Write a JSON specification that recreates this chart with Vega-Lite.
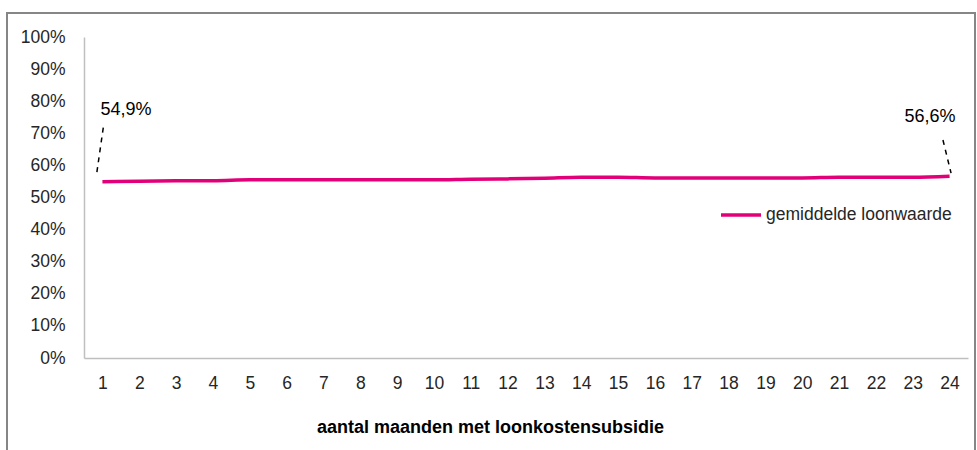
{
  "$schema": "https://vega.github.io/schema/vega-lite/v6.json",
  "autosize": "none",
  "width": 884,
  "height": 321,
  "padding": {"left": 84, "top": 37, "right": 9, "bottom": 92},
  "background": "white",
  "config": {
    "view": {"stroke": null},
    "font": "Liberation Sans",
    "axis": {"grid": false, "ticks": false, "domainColor": "#bfbfbf", "domainWidth": 1.5, "labelFontSize": 17.5, "labelColor": "#262626", "labelFont": "Liberation Sans", "labelOverlap": false}
  },
  "datasets": {
    "reeks": [
      {"maand": 1, "waarde": 0.549, "serie": "gemiddelde loonwaarde"},
      {"maand": 2, "waarde": 0.551, "serie": "gemiddelde loonwaarde"},
      {"maand": 3, "waarde": 0.552, "serie": "gemiddelde loonwaarde"},
      {"maand": 4, "waarde": 0.552, "serie": "gemiddelde loonwaarde"},
      {"maand": 5, "waarde": 0.555, "serie": "gemiddelde loonwaarde"},
      {"maand": 6, "waarde": 0.555, "serie": "gemiddelde loonwaarde"},
      {"maand": 7, "waarde": 0.555, "serie": "gemiddelde loonwaarde"},
      {"maand": 8, "waarde": 0.555, "serie": "gemiddelde loonwaarde"},
      {"maand": 9, "waarde": 0.555, "serie": "gemiddelde loonwaarde"},
      {"maand": 10, "waarde": 0.555, "serie": "gemiddelde loonwaarde"},
      {"maand": 11, "waarde": 0.557, "serie": "gemiddelde loonwaarde"},
      {"maand": 12, "waarde": 0.558, "serie": "gemiddelde loonwaarde"},
      {"maand": 13, "waarde": 0.560, "serie": "gemiddelde loonwaarde"},
      {"maand": 14, "waarde": 0.563, "serie": "gemiddelde loonwaarde"},
      {"maand": 15, "waarde": 0.563, "serie": "gemiddelde loonwaarde"},
      {"maand": 16, "waarde": 0.561, "serie": "gemiddelde loonwaarde"},
      {"maand": 17, "waarde": 0.561, "serie": "gemiddelde loonwaarde"},
      {"maand": 18, "waarde": 0.561, "serie": "gemiddelde loonwaarde"},
      {"maand": 19, "waarde": 0.561, "serie": "gemiddelde loonwaarde"},
      {"maand": 20, "waarde": 0.561, "serie": "gemiddelde loonwaarde"},
      {"maand": 21, "waarde": 0.563, "serie": "gemiddelde loonwaarde"},
      {"maand": 22, "waarde": 0.563, "serie": "gemiddelde loonwaarde"},
      {"maand": 23, "waarde": 0.563, "serie": "gemiddelde loonwaarde"},
      {"maand": 24, "waarde": 0.566, "serie": "gemiddelde loonwaarde"}
    ],
    "leiders": [
      {"maand": 0.85, "waarde": 0.579, "maand2": 1.03, "waarde2": 0.723},
      {"maand": 23.82, "waarde": 0.679, "maand2": 24.04, "waarde2": 0.576}
    ],
    "labels": [
      {"maand": 1.64, "waarde": 0.773, "tekst": "54,9%"},
      {"maand": 23.47, "waarde": 0.751, "tekst": "56,6%"}
    ]
  },
  "encoding": {
    "x": {"field": "maand", "type": "quantitative",
          "scale": {"domain": [0.5, 24.5], "nice": false, "zero": false},
          "axis": {"values": [1,2,3,4,5,6,7,8,9,10,11,12,13,14,15,16,17,18,19,20,21,22,23,24], "format": "d", "labelPadding": 16, "labelOverlap": false, "labelFlush": false, "labelBound": false,
                   "title": "aantal maanden met loonkostensubsidie", "titleFontSize": 18, "titleFontWeight": "bold", "titleColor": "#000000",
                   "titleX": 406, "titleY": 69, "titleAlign": "center", "titleBaseline": "middle", "titleAnchor": null}},
    "y": {"field": "waarde", "type": "quantitative",
          "scale": {"domain": [0, 1], "nice": false},
          "axis": {"values": [0,0.1,0.2,0.3,0.4,0.5,0.6,0.7,0.8,0.9,1], "format": ".0%", "labelPadding": 19, "labelOverlap": false, "labelFlush": false, "labelBound": false, "title": null}}
  },
  "layer": [
    {
      "data": {"values": [{}]},
      "mark": {"type": "rect", "fill": null, "stroke": "#868686", "strokeWidth": 2},
      "encoding": {
        "x": {"value": -77},
        "x2": {"value": 891},
        "y": {"value": -24},
        "y2": {"value": 500}
      }
    },
    {
      "data": {"name": "reeks"},
      "mark": {"type": "line", "strokeWidth": 3.5, "interpolate": "monotone"},
      "encoding": {
        "color": {"field": "serie", "type": "nominal",
                  "scale": {"range": ["#e2007a"]},
                  "legend": {"title": null, "orient": "none", "legendX": 635, "legendY": 156,
                             "symbolType": "stroke", "symbolSize": 1600, "symbolStrokeWidth": 3.5,
                             "labelFontSize": 17.5, "labelLimit": 0, "labelColor": "#262626", "labelOffset": 3}}
      }
    },
    {
      "data": {"name": "leiders"},
      "mark": {"type": "rule", "color": "#000000", "strokeWidth": 1.5, "strokeDash": [5, 5]},
      "encoding": {
        "x2": {"field": "maand2"},
        "y2": {"field": "waarde2"}
      }
    },
    {
      "data": {"name": "labels"},
      "mark": {"type": "text", "fontSize": 18, "color": "#000000", "align": "center", "baseline": "middle"},
      "encoding": {
        "text": {"field": "tekst"}
      }
    }
  ]
}
